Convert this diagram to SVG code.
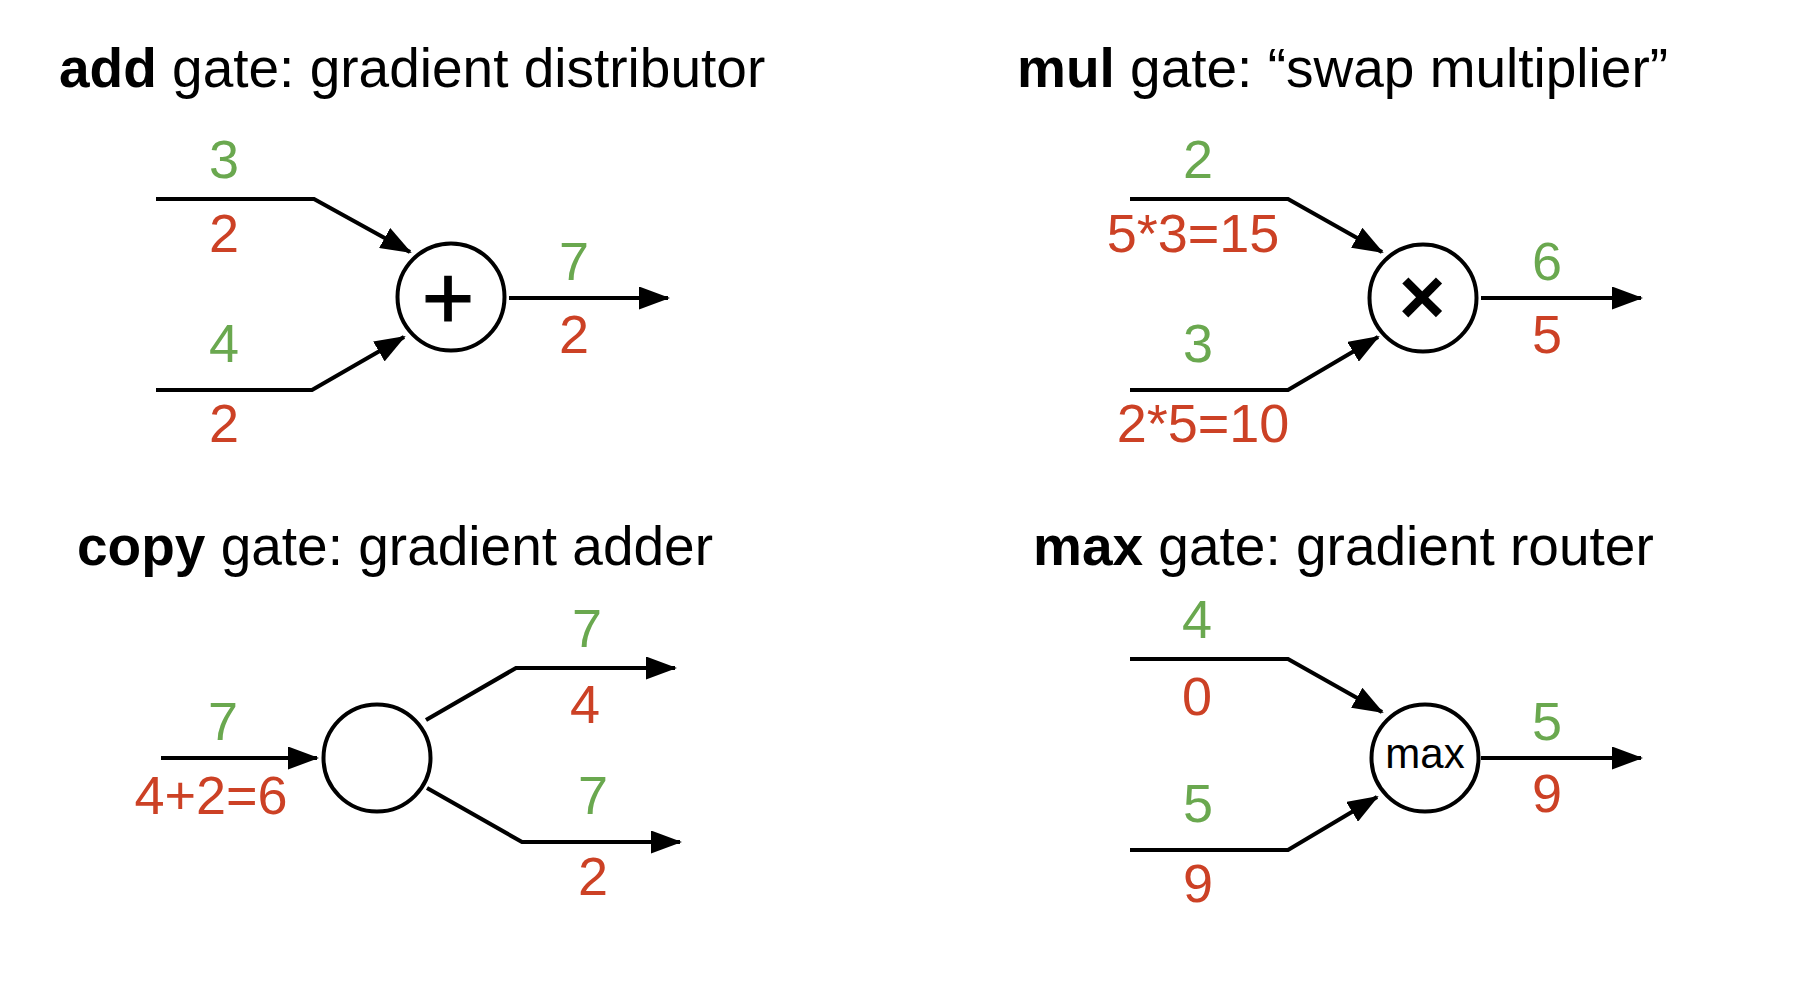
<svg xmlns="http://www.w3.org/2000/svg" width="1803" height="988" viewBox="0 0 1803 988">
  <style>
    .title { font-family: "Liberation Sans", Arial, Helvetica, sans-serif; font-size: 55px; fill: #000; }
    .title .kw { font-weight: bold; }
    .num { font-family: "Liberation Sans", Arial, Helvetica, sans-serif; font-size: 54px; text-anchor: middle; }
    .fwd { fill: #6aa84f; }
    .bwd { fill: #cc4125; }
    .gate { fill: #fff; stroke: #000; stroke-width: 4; }
    .op { font-family: "Liberation Sans", Arial, Helvetica, sans-serif; text-anchor: middle; fill: #000; }
    .wire { fill: none; stroke: #000; stroke-width: 4.2; stroke-linejoin: miter; }
    .arrow { marker-end: url(#head); }
  </style>
  <defs>
    <marker id="head" markerUnits="userSpaceOnUse" markerWidth="31" markerHeight="23" refX="29" refY="11.5" orient="auto">
      <path d="M0,0 L31,11.5 L0,23 z" fill="#000"/>
    </marker>
  </defs>

  <rect width="1803" height="988" fill="#fff"/>

  <!-- section titles -->
  <text class="title" x="59" y="87"><tspan class="kw">add</tspan> gate: gradient distributor</text>
  <text class="title" x="1017" y="87"><tspan class="kw">mul</tspan> gate: “swap multiplier”</text>
  <text class="title" x="77" y="565"><tspan class="kw">copy</tspan> gate: gradient adder</text>
  <text class="title" x="1033" y="565"><tspan class="kw">max</tspan> gate: gradient router</text>

  <!-- wires between values and gates -->
  <g id="connectors">
    <!-- add -->
    <path class="wire arrow" d="M156,199 L314,199 L410,252"/>
    <path class="wire arrow" d="M156,390 L312,390 L404,337"/>
    <path class="wire arrow" d="M509,298 L668,298"/>
    <!-- mul -->
    <path class="wire arrow" d="M1130,199 L1288,199 L1382,252"/>
    <path class="wire arrow" d="M1130,390 L1288,390 L1378,337"/>
    <path class="wire arrow" d="M1481,298 L1641,298"/>
    <!-- copy -->
    <path class="wire arrow" d="M161,758 L317,758"/>
    <path class="wire arrow" d="M426,720 L516,668 L675,668"/>
    <path class="wire arrow" d="M427,788 L522,842 L680,842"/>
    <!-- max -->
    <path class="wire arrow" d="M1130,659 L1288,659 L1382,712"/>
    <path class="wire arrow" d="M1130,850 L1288,850 L1377,797"/>
    <path class="wire arrow" d="M1481,758 L1641,758"/>
  </g>

  <!-- add gate -->
  <g id="add-gate">
    <circle class="gate" cx="451" cy="297" r="53.5"/>
    <text class="op" x="448" y="329" font-size="90" stroke="#000" stroke-width="1.2">+</text>
    <text class="num fwd" x="224" y="178">3</text>
    <text class="num bwd" x="224" y="252">2</text>
    <text class="num fwd" x="224" y="362">4</text>
    <text class="num bwd" x="224" y="442">2</text>
    <text class="num fwd" x="574" y="280">7</text>
    <text class="num bwd" x="574" y="353">2</text>
  </g>

  <!-- mul gate -->
  <g id="mul-gate">
    <circle class="gate" cx="1423" cy="298" r="53.5"/>
    <text class="op" x="1422" y="324" font-size="80" font-weight="bold">×</text>
    <text class="num fwd" x="1198" y="178">2</text>
    <text class="num bwd" x="1193" y="252">5*3=15</text>
    <text class="num fwd" x="1198" y="362">3</text>
    <text class="num bwd" x="1203" y="442">2*5=10</text>
    <text class="num fwd" x="1547" y="280">6</text>
    <text class="num bwd" x="1547" y="353">5</text>
  </g>

  <!-- copy gate -->
  <g id="copy-gate">
    <circle class="gate" cx="377" cy="758" r="53.5"/>
    <text class="num fwd" x="223" y="740">7</text>
    <text class="num bwd" x="211" y="814">4+2=6</text>
    <text class="num fwd" x="587" y="647">7</text>
    <text class="num bwd" x="585" y="723">4</text>
    <text class="num fwd" x="593" y="814">7</text>
    <text class="num bwd" x="593" y="895">2</text>
  </g>

  <!-- max gate -->
  <g id="max-gate">
    <circle class="gate" cx="1425" cy="758" r="53.5"/>
    <text class="op" x="1425" y="768" font-size="42">max</text>
    <text class="num fwd" x="1197" y="638">4</text>
    <text class="num bwd" x="1197" y="715">0</text>
    <text class="num fwd" x="1198" y="822">5</text>
    <text class="num bwd" x="1198" y="902">9</text>
    <text class="num fwd" x="1547" y="740">5</text>
    <text class="num bwd" x="1547" y="812">9</text>
  </g>
</svg>
